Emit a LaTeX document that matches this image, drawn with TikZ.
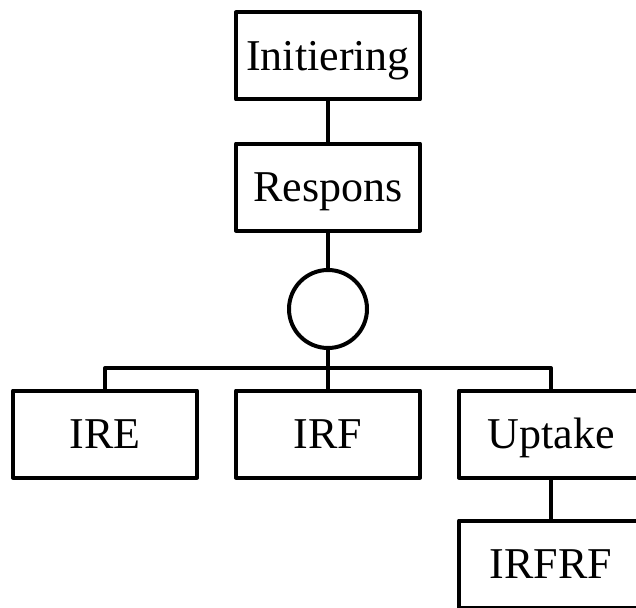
\documentclass[tikz,border=0pt]{standalone}
\usepackage{fontspec}
\setmainfont{Liberation Serif}
\begin{document}
\begin{tikzpicture}[x=1pt, y=1pt, line width=4pt, line join=round,
	box/.style={draw, minimum width=184pt, minimum height=87pt, inner sep=0pt,
		text height=29pt, text depth=0pt, font=\fontsize{44}{50}\selectfont},
	node distance=131pt]
		\useasboundingbox (0,0) rectangle (636,-607);
		\clip (0,0) rectangle (636,-607);
		\node (init) [box] at (328,-56) {Initiering};
		\node (resp) [box, below of=init] {Respons};
		\node (knot) [draw, circle, minimum size=78pt, inner sep=0pt, below of=resp, node distance=122pt] {};
		\node (irf) [box, below of=knot, node distance=125pt] {IRF};
		\node (ire) [box, left of=irf, node distance=223pt] {IRE};
		\node (upt) [box, right of=irf, node distance=223pt] {Uptake};
		\node (irfrf) [box, below of=upt, node distance=130pt] {IRFRF};
		\path (knot) ++(0,-59) coordinate (bus);
		\draw (init) -- (resp);
		\draw (resp) -- (knot);
		\draw (knot) -- (irf);
		\draw (ire.north) |- (bus) -| (upt.north);
		\draw (upt) -- (irfrf);
\end{tikzpicture}
\end{document}
